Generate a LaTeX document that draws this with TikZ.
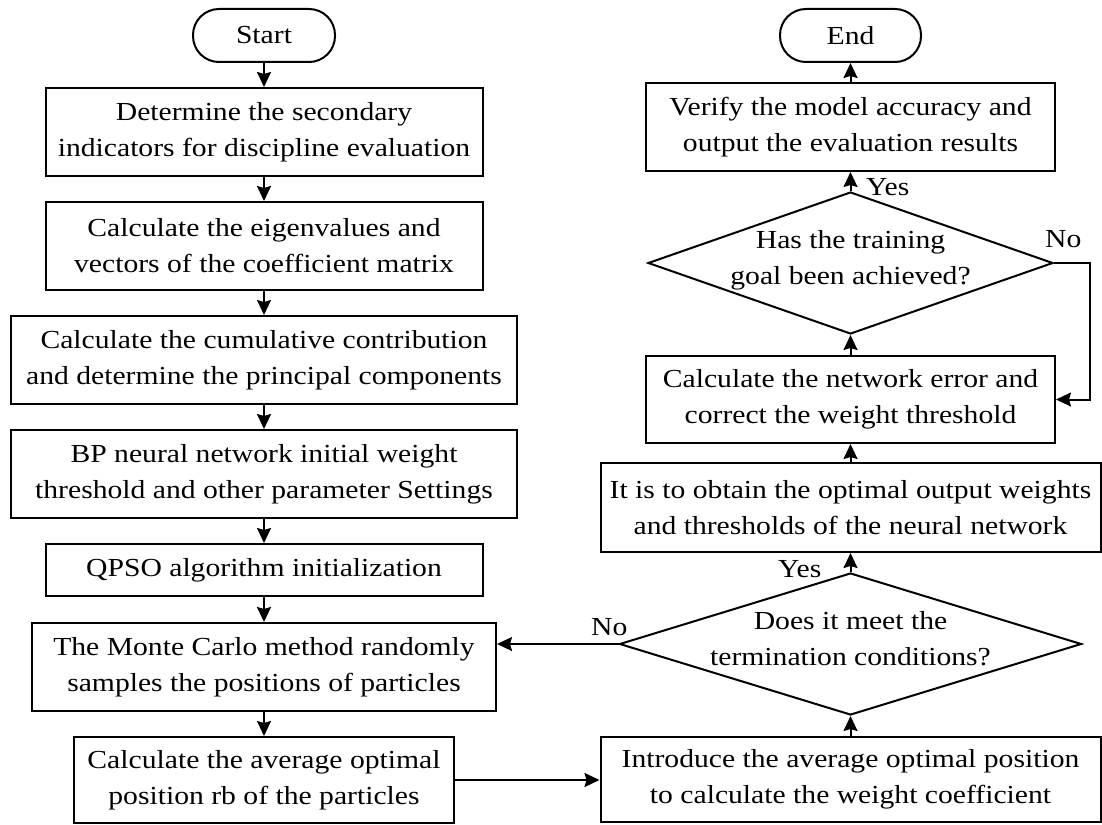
\documentclass[tikz,border=0pt]{standalone}
\usepackage{fontspec}
\setmainfont{Liberation Serif}[FakeStretch=1.14]
\usetikzlibrary{arrows.meta,shapes.geometric}
\newcommand{\dlines}[2]{\makebox[0pt]{\raisebox{-3pt}[0pt][0pt]{\begin{tabular}{@{}c@{}}#1\\#2\end{tabular}}}}
\tikzset{
  fnt/.style={font=\fontsize{26}{36}\selectfont},
  box/.style={draw, line width=2pt, rectangle, align=center, inner sep=0pt, fnt},
  term/.style={box, rounded corners=26pt, minimum width=142pt, minimum height=53pt},
  decision/.style={draw, line width=2pt, diamond, inner sep=0pt, fnt},
  arr/.style={line width=2pt, -{Stealth[length=15pt,width=14pt,inset=2pt]}},
  lbl/.style={fnt, inner sep=0pt}
}
\begin{document}
\begin{tikzpicture}[x=1pt,y=-1pt]
\useasboundingbox (0,0) rectangle (1102,824);
% left column
\node[term] (start) at (264,35.5) {Start};
\node[box, minimum width=437pt, minimum height=88pt] (b1) at (264,132) {Determine the secondary\\indicators for discipline evaluation};
\node[box, minimum width=437pt, minimum height=88pt] (b2) at (264,246) {Calculate the eigenvalues and\\vectors of the coefficient matrix};
\node[box, minimum width=506pt, minimum height=88pt] (b3) at (264,360) {Calculate the cumulative contribution\\and determine the principal components};
\node[box, minimum width=506pt, minimum height=88pt] (b4) at (264,474) {BP neural network initial weight\\threshold and other parameter Settings};
\node[box, minimum width=437pt, minimum height=52pt] (b5) at (264,570) {QPSO algorithm initialization};
\node[box, minimum width=464pt, minimum height=88pt] (b6) at (264,667) {The Monte Carlo method randomly\\samples the positions of particles};
\node[box, minimum width=380pt, minimum height=86pt] (b7) at (264,780) {Calculate the average optimal\\position rb of the particles};
% right column
\node[term, minimum width=141pt] (end) at (850.5,35.5) {End};
\node[box, minimum width=409pt, minimum height=88pt] (v) at (850.5,127) {Verify the model accuracy and\\output the evaluation results};
\node[decision, minimum width=405pt, minimum height=142pt] (d1) at (850.5,263) {\dlines{Has the training}{goal been achieved?}};
\node[box, minimum width=409pt, minimum height=87pt] (e) at (850.5,399.5) {Calculate the network error and\\correct the weight threshold};
\node[box, minimum width=500pt, minimum height=89pt] (o) at (850.5,507.5) {It is to obtain the optimal output weights\\and thresholds of the neural network};
\node[decision, minimum width=462pt, minimum height=142pt] (d2) at (850.5,644) {\dlines{Does it meet the}{termination conditions?}};
\node[box, minimum width=500pt, minimum height=85pt] (i) at (850.5,779.5) {Introduce the average optimal position\\to calculate the weight coefficient};
% labels
\node[lbl, anchor=base west] (yes1) at (866,195) {Yes};
\node[lbl, anchor=base west] (no1) at (1045,247) {No};
\node[lbl, anchor=base west] (yes2) at (778,577) {Yes};
\node[lbl, anchor=base west] (no2) at (591,635) {No};
% connectors left
\draw[arr] (start) -- (b1);
\draw[arr] (b1) -- (b2);
\draw[arr] (b2) -- (b3);
\draw[arr] (b3) -- (b4);
\draw[arr] (b4) -- (b5);
\draw[arr] (b5) -- (b6);
\draw[arr] (b6) -- (b7);
\draw[arr] (b7.east) -- (b7.east -| i.west);
% connectors right
\draw[arr] (i) -- (d2);
\draw[arr] (d2.west) -- (d2.west -| b6.east);
\draw[arr] (d2) -- (o);
\draw[arr] (o) -- (e);
\draw[arr] (e) -- (d1);
\draw[arr] (d1.east) -- ++(36,0) |- (e.east);
\draw[arr] (d1) -- (v);
\draw[arr] (v) -- (end);
\end{tikzpicture}
\end{document}
